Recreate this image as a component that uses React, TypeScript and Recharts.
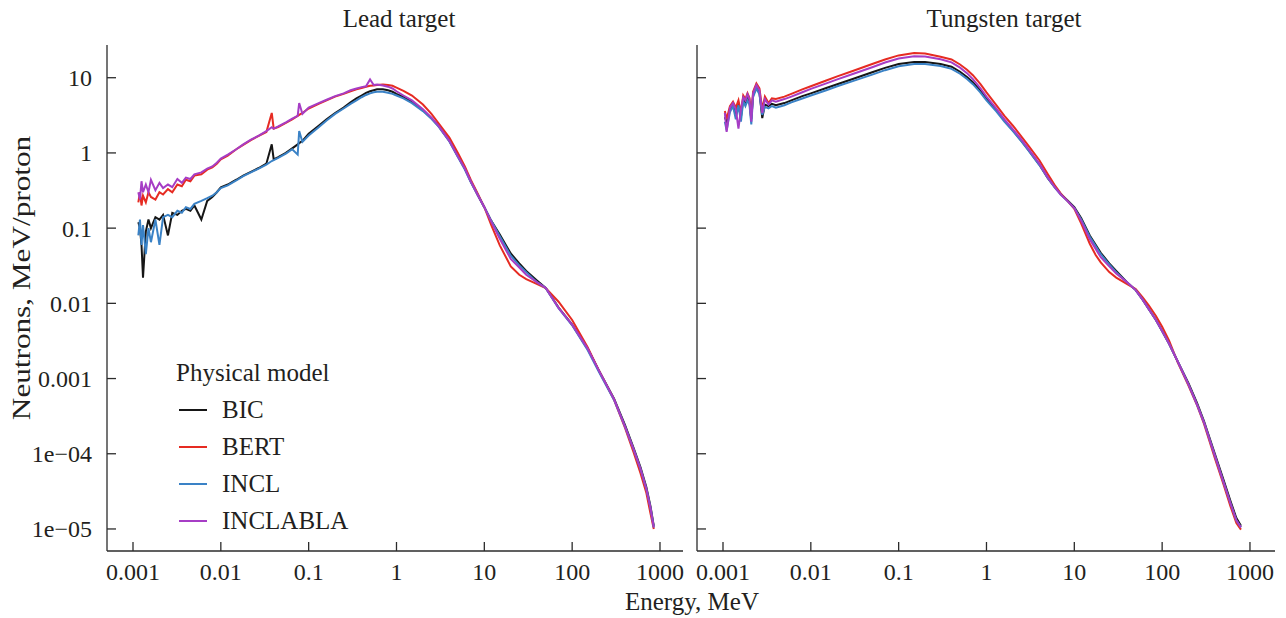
import { LineChart, Line, XAxis, YAxis, Legend } from 'recharts';

const FONT = '"Liberation Serif", "Times New Roman", serif';
const TEXT = '#231f20';
const AXIS = '#2b2b2b';

const xTicks = [0.001, 0.01, 0.1, 1, 10, 100, 1000];
const yTicks = [1e-5, 1e-4, 0.001, 0.01, 0.1, 1, 10];
const yTickLabels = ['1e\u221205', '1e\u221204', '0.001', '0.01', '0.1', '1', '10'];
const Y_DOMAIN = [10 ** -5.293, 10 ** 1.435];

const SERIES = [
  { key: 'BIC', color: '#161616' },
  { key: 'BERT', color: '#e62b22' },
  { key: 'INCL', color: '#3a82c6' },
  { key: 'INCLABLA', color: '#a63dc5' },
];

// Lead target
const leadEnergy = [
  0.00115, 0.0012, 0.00125, 0.0013, 0.0014, 0.0015, 0.0016, 0.0018, 0.002, 0.0022,
  0.0025, 0.0028, 0.0032, 0.0036, 0.004, 0.0045, 0.005, 0.006, 0.007, 0.008,
  0.009, 0.01, 0.012, 0.015, 0.018, 0.022, 0.027, 0.033, 0.038, 0.04,
  0.045, 0.055, 0.065, 0.075, 0.078, 0.085, 0.1, 0.13, 0.16, 0.2,
  0.25, 0.3, 0.35, 0.4, 0.45, 0.5, 0.55, 0.6, 0.7, 0.8,
  0.9, 1, 1.2, 1.5, 2, 2.5, 3, 4, 5, 6,
  7, 8.5, 10, 12, 15, 20, 25, 30, 40, 50,
  70, 100, 150, 200, 300, 400, 500, 600, 700, 780,
  850,
];
const leadBIC = [
  0.12, 0.1, 0.06, 0.022, 0.09, 0.13, 0.1, 0.14, 0.13, 0.15,
  0.08, 0.16, 0.15, 0.17, 0.18, 0.17, 0.2, 0.13, 0.23, 0.26,
  0.3, 0.35, 0.38, 0.44, 0.5, 0.56, 0.63, 0.72, 1.3, 0.82,
  0.88, 1.0, 1.15, 1.3, 1.35, 1.45, 1.8, 2.3, 2.8, 3.4,
  4.0, 4.7, 5.3, 5.8, 6.3, 6.6, 6.8, 7.0, 7.0, 6.8,
  6.5, 6.1, 5.5, 4.8, 3.7, 2.9, 2.3, 1.45, 0.9, 0.62,
  0.42, 0.27, 0.19, 0.125, 0.082, 0.046, 0.034, 0.027, 0.02, 0.016,
  0.0088, 0.0052, 0.0025, 0.0013, 0.00054, 0.00024, 0.00012, 6.6e-5, 3.6e-5, 2.0e-5,
  1.1e-5,
];
const leadBERT = [
  0.22, 0.3, 0.2, 0.27, 0.22, 0.3, 0.26, 0.24, 0.3, 0.28,
  0.33, 0.3, 0.38, 0.36, 0.44, 0.42, 0.5, 0.52, 0.6, 0.64,
  0.72, 0.82, 0.92, 1.12, 1.28, 1.48, 1.68, 1.9, 3.4, 2.1,
  2.2, 2.5, 2.8, 3.1, 3.2, 3.4, 3.9, 4.5, 5.0, 5.6,
  6.1, 6.6, 7.0, 7.3, 7.6, 7.8, 7.9, 8.0, 8.1, 8.0,
  7.8, 7.4, 6.7, 5.8, 4.4, 3.3, 2.5, 1.6, 1.0, 0.66,
  0.44, 0.28, 0.19, 0.11, 0.059, 0.031, 0.024, 0.021, 0.018, 0.016,
  0.0105, 0.006, 0.0026, 0.0013, 0.00052, 0.00022, 0.000105, 5.5e-5, 3.0e-5, 1.6e-5,
  1.0e-5,
];
const leadINCL = [
  0.08, 0.13, 0.06, 0.11, 0.045, 0.1, 0.065, 0.13, 0.06, 0.14,
  0.15, 0.14, 0.17, 0.16, 0.19, 0.18, 0.21, 0.23, 0.25, 0.27,
  0.3, 0.34, 0.37, 0.43, 0.49, 0.55, 0.62, 0.7, 0.78, 0.8,
  0.86, 0.98, 1.12, 0.95, 1.95, 1.4, 1.7, 2.2, 2.7, 3.3,
  3.9, 4.5, 5.0, 5.5, 5.9, 6.2, 6.4, 6.5, 6.5, 6.3,
  6.1, 5.8, 5.3, 4.6, 3.6, 2.85, 2.25, 1.42, 0.88, 0.6,
  0.41, 0.27, 0.19, 0.125, 0.078, 0.043, 0.032, 0.026, 0.019, 0.016,
  0.0086, 0.0051, 0.0024, 0.00125, 0.00052, 0.00023, 0.000115, 6.3e-5, 3.4e-5, 1.9e-5,
  1.05e-5,
];
const leadINCLABLA = [
  0.3, 0.24, 0.42, 0.3, 0.38, 0.3, 0.44, 0.32, 0.4, 0.34,
  0.38, 0.35, 0.45, 0.4, 0.47, 0.45, 0.52, 0.55, 0.62, 0.66,
  0.74, 0.84, 0.95, 1.12, 1.3, 1.5, 1.7, 1.95, 2.2, 2.1,
  2.25, 2.55, 2.85, 3.1, 4.6, 3.3, 4.0, 4.6, 5.1, 5.7,
  6.2, 6.8, 7.2, 7.5, 7.7, 9.5, 8.0, 8.1, 7.9, 7.6,
  7.2, 6.6, 5.8, 5.0, 3.8, 2.95, 2.3, 1.45, 0.9, 0.62,
  0.42, 0.27, 0.19, 0.122, 0.072, 0.039, 0.03, 0.024, 0.019, 0.016,
  0.0087, 0.0052, 0.0025, 0.0013, 0.00053, 0.00023, 0.000115, 6.3e-5, 3.4e-5, 1.9e-5,
  1.05e-5,
];

// Tungsten target
const tungstenEnergy = [
  0.00105, 0.0011, 0.0012, 0.0013, 0.0014, 0.0015, 0.0016, 0.0017, 0.0018, 0.0019,
  0.002, 0.0021, 0.0022, 0.0024, 0.0026, 0.0028, 0.003, 0.0033, 0.0036, 0.004,
  0.005, 0.006, 0.008, 0.01, 0.015, 0.02, 0.03, 0.05, 0.07, 0.1,
  0.15, 0.2, 0.3, 0.4, 0.5, 0.6, 0.7, 0.85, 1, 1.3,
  1.6, 2, 2.5, 3, 4, 5, 6, 7, 8.5, 10,
  12, 15, 17.5, 20, 25, 30, 40, 50, 60, 70,
  85, 100, 120, 150, 200, 250, 300, 400, 500, 600,
  700, 790,
];
const tungstenBIC = [
  3.0, 2.6, 3.8, 4.3, 3.2, 4.6, 3.0, 5.2, 4.6, 5.4,
  4.8, 2.8, 5.8, 7.6, 6.4, 2.9, 4.4, 4.2, 4.5, 4.3,
  4.6, 5.0, 5.7, 6.2, 7.3, 8.2, 9.6, 11.8, 13.5, 15.2,
  16.2, 16.2, 15.2, 14, 12, 10.2, 8.7, 6.8, 5.3, 3.7,
  2.7, 2.0, 1.45, 1.1, 0.7, 0.46, 0.35, 0.285, 0.23, 0.19,
  0.135, 0.08, 0.06, 0.047, 0.034, 0.027, 0.019, 0.015, 0.0112, 0.0085,
  0.006, 0.0043, 0.0029, 0.0017, 0.00086, 0.00047, 0.00027, 9.8e-5, 4.5e-5, 2.35e-5,
  1.4e-5, 1.1e-5,
];
const tungstenBERT = [
  3.6, 2.8, 4.2, 4.8, 4.0, 5.0, 3.4, 5.8, 5.2, 6.2,
  5.4, 3.2, 6.5, 8.4, 7.2, 3.8, 5.6, 4.6, 5.3, 5.2,
  5.6, 6.1, 7.0, 7.7, 9.2, 10.4, 12.3, 15.2, 17.5, 19.8,
  21.3, 21, 19, 17.5, 15, 12.8, 10.8, 8.3, 6.4, 4.3,
  3.1, 2.3, 1.65, 1.25, 0.8, 0.52, 0.37, 0.29, 0.225, 0.18,
  0.115, 0.062, 0.044, 0.035, 0.026, 0.022, 0.018, 0.0155, 0.012, 0.0095,
  0.0068, 0.0049, 0.0032, 0.00165, 0.0008, 0.00044, 0.00025, 8.6e-5, 3.9e-5, 2.0e-5,
  1.2e-5, 9.8e-6,
];
const tungstenINCL = [
  2.6, 2.0, 3.5, 4.2, 2.8, 4.3, 2.6, 4.9, 4.2, 5.0,
  4.4, 2.4, 5.5, 7.2, 6.0, 3.2, 4.1, 3.9, 4.2, 4.0,
  4.3, 4.7, 5.3, 5.8, 6.8, 7.7, 9.0, 11.0, 12.6, 14.2,
  15.2, 15.2, 14.3, 13.1, 11.3, 9.6, 8.2, 6.4, 5.0, 3.55,
  2.6, 1.95, 1.42, 1.08, 0.69, 0.46, 0.345, 0.28, 0.225, 0.185,
  0.13, 0.077, 0.058, 0.045, 0.033, 0.026, 0.019, 0.015, 0.0112, 0.0085,
  0.006, 0.0043, 0.0029, 0.0017, 0.00083, 0.00045, 0.00026, 9.3e-5, 4.2e-5, 2.2e-5,
  1.3e-5, 1.05e-5,
];
const tungstenINCLABLA = [
  3.4, 1.9, 4.0, 4.6, 3.8, 2.1, 3.8, 5.5, 5.0, 6.0,
  5.2, 2.6, 6.2, 8.0, 6.8, 3.4, 5.2, 4.4, 5.0, 4.8,
  5.2, 5.6, 6.4, 7.1, 8.4, 9.5, 11.2, 13.8, 15.9, 18.0,
  19.3, 19.2, 17.6, 16, 13.6, 11.5, 9.6, 7.3, 5.6, 3.85,
  2.8, 2.05, 1.5, 1.13, 0.72, 0.47, 0.35, 0.28, 0.225, 0.185,
  0.125, 0.071, 0.053, 0.041, 0.031, 0.025, 0.019, 0.015, 0.0112, 0.0085,
  0.006, 0.0043, 0.0029, 0.0017, 0.00083, 0.00045, 0.00026, 9.3e-5, 4.2e-5, 2.2e-5,
  1.3e-5, 1.05e-5,
];

const leadRows = leadEnergy.map((e, i) => ({
  e, BIC: leadBIC[i], BERT: leadBERT[i], INCL: leadINCL[i], INCLABLA: leadINCLABLA[i],
}));
const tungstenRows = tungstenEnergy.map((e, i) => ({
  e, BIC: tungstenBIC[i], BERT: tungstenBERT[i], INCL: tungstenINCL[i], INCLABLA: tungstenINCLABLA[i],
}));

const tickStyle = { fill: TEXT, fontSize: 24, fontFamily: FONT };

// legend keeps the series order (BIC, BERT, INCL, INCLABLA)
const renderLegend = () => (
  <div style={{ fontFamily: FONT, fontSize: 25, color: TEXT, whiteSpace: 'nowrap', textAlign: 'left' }}>
    <div style={{ height: 37, lineHeight: '37px' }}>Physical model</div>
    {SERIES.map((s) => (
      <div key={s.key} style={{ display: 'flex', alignItems: 'center', height: 37 }}>
        <span style={{ display: 'inline-block', width: 28, borderTop: `2.5px solid ${s.color}`, marginLeft: 3, marginRight: 15 }} />
        <span>{s.key}</span>
      </div>
    ))}
  </div>
);

type PanelProps = {
  rows: any[];
  width: number;
  left: number;
  right: number;
  xDomain: number[];
  yLabels: boolean;
  legend: boolean;
};

const Panel = ({ rows, width, left, right, xDomain, yLabels, legend }: PanelProps) => (
  <LineChart
    width={width}
    height={618}
    data={rows}
    margin={{ top: 45, right, bottom: 66, left }}
  >
    <XAxis
      dataKey="e"
      type="number"
      scale="log"
      domain={xDomain}
      allowDataOverflow
      ticks={xTicks}
      interval={0}
      tickFormatter={(v: number) => String(v)}
      height={1}
      tickSize={-9}
      tickMargin={21}
      stroke={AXIS}
      strokeWidth={1.3}
      tick={tickStyle}
    />
    <YAxis
      type="number"
      scale="log"
      domain={Y_DOMAIN}
      allowDataOverflow
      ticks={yTicks}
      interval={0}
      tickFormatter={(_v: number, i: number) => (yLabels ? yTickLabels[i] : '')}
      width={1}
      tickSize={-9}
      tickMargin={24}
      stroke={AXIS}
      strokeWidth={1.3}
      tick={tickStyle}
    />
    {legend && (
      <Legend
        layout="vertical"
        align="center"
        verticalAlign="middle"
        content={renderLegend}
        wrapperStyle={{ position: 'absolute', left: 176, top: 354, width: 240, height: 190 }}
      />
    )}
    {SERIES.map((s) => (
      <Line
        key={s.key}
        dataKey={s.key}
        name={s.key}
        type="linear"
        stroke={s.color}
        strokeWidth={2}
        dot={false}
        isAnimationActive={false}
      />
    ))}
  </LineChart>
);

const label = (extra: any) => ({
  position: 'absolute' as const,
  fontFamily: FONT,
  fontSize: 25,
  color: TEXT,
  textAlign: 'center' as const,
  whiteSpace: 'nowrap' as const,
  lineHeight: '30px',
  height: 30,
  ...extra,
});

export default function App() {
  return (
    <div style={{ position: 'absolute', left: 0, top: 0, width: 1286, height: 618, background: '#fff', overflow: 'hidden' }}>
      <div style={{ position: 'absolute', left: 0, top: 0 }}>
        <Panel rows={leadRows} width={700} left={106} right={17} xDomain={[10 ** -3.296, 10 ** 3.262]} yLabels legend />
      </div>
      <div style={{ position: 'absolute', left: 600, top: 0 }}>
        <Panel rows={tungstenRows} width={686} left={96} right={11} xDomain={[10 ** -3.296, 10 ** 3.285]} yLabels={false} legend={false} />
      </div>
      <div style={label({ left: 299, top: 4, width: 200 })}>Lead target</div>
      <div style={label({ left: 904, top: 4, width: 200 })}>Tungsten target</div>
      <div style={label({ left: 592, top: 587, width: 200 })}>Energy, MeV</div>
      <div style={label({ left: -178, top: 263, width: 400, fontSize: 26, transform: 'rotate(-90deg) scaleX(1.2)' })}>
        Neutrons, MeV/proton
      </div>
    </div>
  );
}
